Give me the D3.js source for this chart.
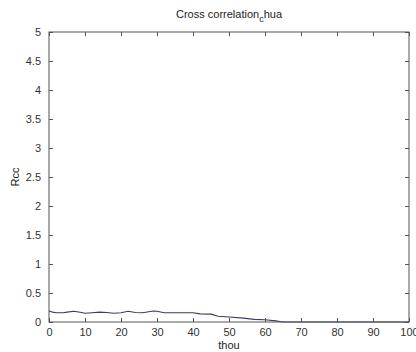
<!DOCTYPE html>
<html>
<head>
<meta charset="utf-8">
<script src="https://cdn.jsdelivr.net/npm/d3@7"></script>
<style>
  html, body { margin: 0; padding: 0; background: #fff; }
  svg { display: block; font-family: "Liberation Sans", Arial, sans-serif; }
</style>
</head>
<body>
<svg id="chart" width="416" height="352"></svg>
<script>
// Lag values (thou) and cross-correlation (Rcc)
const lags = [0, 1, 2, 4, 5, 7, 9, 10, 12, 14, 16, 18, 20, 22, 24, 26, 29, 30, 32, 35, 38, 40, 42, 45, 47, 50, 54, 57, 60, 63, 65, 70, 80, 90, 100];
const rcc  = [0.19, 0.17, 0.16, 0.16, 0.17, 0.185, 0.165, 0.15, 0.16, 0.17, 0.165, 0.15, 0.16, 0.185, 0.165, 0.16, 0.19, 0.185, 0.16, 0.16, 0.16, 0.16, 0.14, 0.135, 0.10, 0.085, 0.067, 0.045, 0.04, 0.02, 0.0, 0.0, 0.0, 0.0, 0.0];
const xTicks = [0, 10, 20, 30, 40, 50, 60, 70, 80, 90, 100];
const yTicks = [0, 0.5, 1, 1.5, 2, 2.5, 3, 3.5, 4, 4.5, 5];

const svg = d3.select("#chart");
const m = { left: 49, right: 7, top: 32, bottom: 30 };
const W = 416, H = 352;
const x = d3.scaleLinear().domain([0, 100]).range([m.left, W - m.right]);
const y = d3.scaleLinear().domain([0, 5]).range([H - m.bottom, m.top]);
const axisColor = "#555";
const tickLen = 4;

// Data line
const line = d3.line().x((d, i) => x(lags[i])).y(d => y(d));
svg.append("path")
  .datum(rcc)
  .attr("d", line)
  .attr("fill", "none")
  .attr("stroke", "#3a3a66")
  .attr("stroke-width", 1.1);

// Box axes with inward ticks
function styleAxis(g) {
  g.select(".domain").remove();
  g.selectAll(".tick line").attr("stroke", axisColor);
  g.selectAll(".tick text").attr("fill", "#333").style("font-size", "11px");
}
svg.append("g").attr("transform", `translate(0,${y(0)})`)
  .call(d3.axisBottom(x).tickValues(xTicks).tickSizeInner(-tickLen).tickSizeOuter(0).tickPadding(6))
  .call(styleAxis);
svg.append("g").attr("transform", `translate(${x(0)},0)`)
  .call(d3.axisLeft(y).tickValues(yTicks).tickFormat(d3.format("")).tickSizeInner(-tickLen).tickSizeOuter(0).tickPadding(8))
  .call(styleAxis);
svg.append("g").attr("transform", `translate(0,${y(5)})`)
  .call(d3.axisTop(x).tickValues(xTicks).tickSizeInner(-tickLen).tickSizeOuter(0).tickFormat(""))
  .call(styleAxis);
svg.append("g").attr("transform", `translate(${x(100)},0)`)
  .call(d3.axisRight(y).tickValues(yTicks).tickSizeInner(-tickLen).tickSizeOuter(0).tickFormat(""))
  .call(styleAxis);

svg.append("rect")
  .attr("x", x(0)).attr("y", y(5))
  .attr("width", x(100) - x(0)).attr("height", y(0) - y(5))
  .attr("fill", "none").attr("stroke", axisColor).attr("stroke-width", 1);

// Title with subscript
const title = svg.append("text")
  .attr("x", (x(0) + x(100)) / 2).attr("y", 18)
  .attr("text-anchor", "middle").attr("fill", "#222")
  .style("font-size", "11px");
title.append("tspan").text("Cross correlation");
title.append("tspan").attr("dy", 4).style("font-size", "9px").text("c");
title.append("tspan").attr("dy", -4).text("hua");

// Axis labels
svg.append("text")
  .attr("x", (x(0) + x(100)) / 2).attr("y", 349)
  .attr("text-anchor", "middle").attr("fill", "#222")
  .style("font-size", "11px").text("thou");
svg.append("text")
  .attr("transform", `translate(19,${(y(0) + y(5)) / 2}) rotate(-90)`)
  .attr("text-anchor", "middle").attr("fill", "#222")
  .style("font-size", "11px").text("Rcc");
</script>
</body>
</html>
